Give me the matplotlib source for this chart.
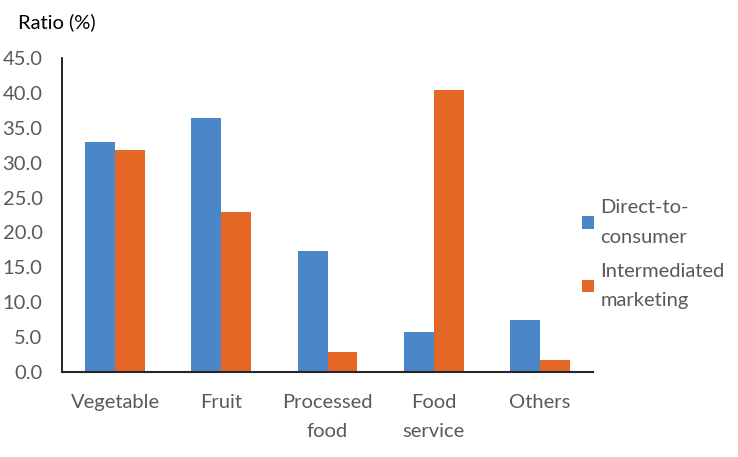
import matplotlib
matplotlib.use("Agg")
import matplotlib.pyplot as plt
import numpy as np

categories = ["Vegetable", "Fruit", "Processed\nfood", "Food\nservice", "Others"]
direct = [32.9, 36.4, 17.3, 5.8, 7.4]
intermediated = [31.8, 23.0, 2.8, 40.4, 1.7]
series_names = ["Direct-to-\nconsumer", "Intermediated\nmarketing"]
yticks = [0, 5, 10, 15, 20, 25, 30, 35, 40, 45]

plt.rcParams['font.family'] = ['Lato', 'DejaVu Sans']
FS = 14.5

fig = plt.figure(figsize=(7.38, 4.57), dpi=100)
W, H = 738, 457
ax = fig.add_axes([62 / W, 1 - 372 / H, (593 - 62) / W, (372 - 58) / H])

blue = "#4A86C8"
orange = "#E46726"
x = np.arange(len(categories))
bw = 0.282
b1 = ax.bar(x - bw / 2, direct, bw, color=blue, label=series_names[0])
b2 = ax.bar(x + bw / 2, intermediated, bw, color=orange, label=series_names[1])

ax.set_xlim(-0.5, len(categories) - 0.5)
ax.set_ylim(0, 45)
ax.set_yticks(yticks)
ax.set_yticklabels([f"{v:.1f}" for v in yticks])
ax.set_xticks(x)
ax.set_xticklabels(categories, linespacing=1.9)
ax.tick_params(axis='both', length=0, labelsize=FS, colors="#595959")
ax.tick_params(axis='y', pad=14)
ax.tick_params(axis='x', pad=15.5)

for s in ["top", "right"]:
    ax.spines[s].set_visible(False)
ax.spines["left"].set_color("#000000")
ax.spines["left"].set_linewidth(1.2)
ax.spines["bottom"].set_color("#262626")
ax.spines["bottom"].set_linewidth(1.5)

fig.text(18 / W, 1 - 22 / H, "Ratio (%)", fontsize=FS, color="#000000",
         va="center", ha="left")

leg = fig.legend(handles=[b1, b2], labels=series_names, loc="upper left",
                 bbox_to_anchor=(564 / W, 1 - 181 / H), frameon=False,
                 fontsize=FS, handlelength=0.6, handleheight=0.6,
                 handletextpad=0.3, labelspacing=0.85, labelcolor="#595959")
for t in leg.get_texts():
    t.set_linespacing(1.9)

fig.savefig("out.png", dpi=100)
